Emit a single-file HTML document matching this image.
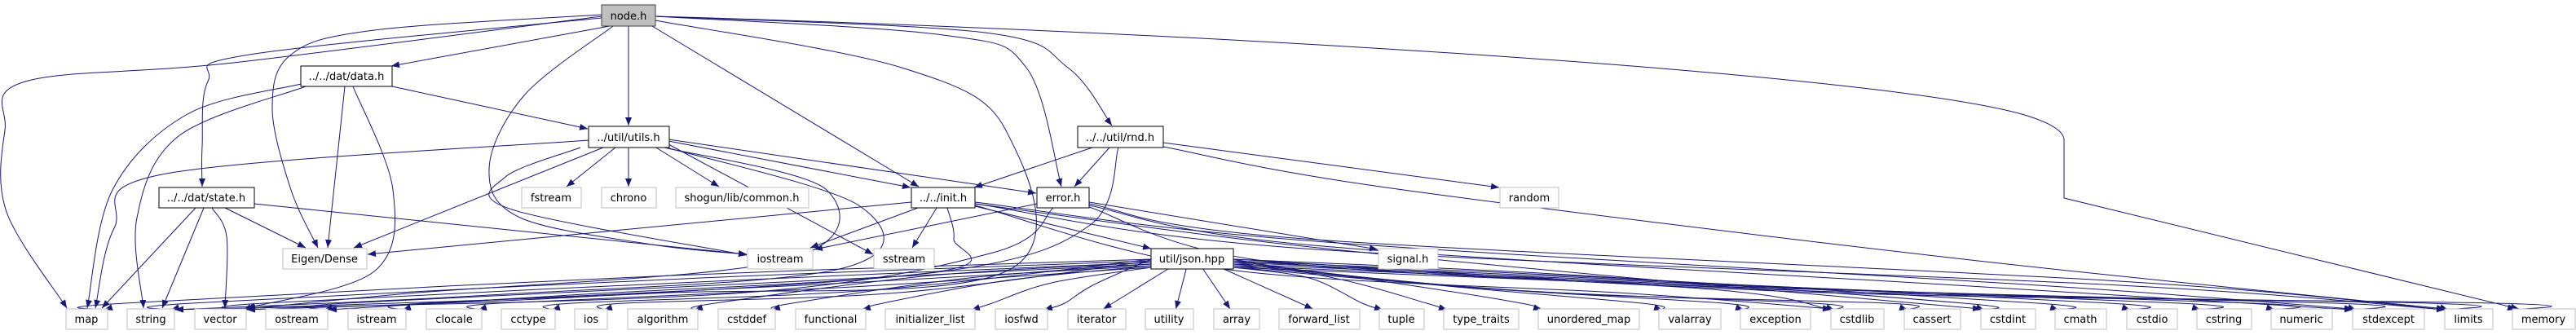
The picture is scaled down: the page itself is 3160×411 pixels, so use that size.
<!DOCTYPE html>
<html><head><meta charset="utf-8"><style>
html,body{margin:0;padding:0;background:#fff;}
svg{display:block;}
text{font-family:"DejaVu Sans","Liberation Sans",sans-serif;font-size:13px;fill:#000;}
</style></head><body>
<svg id="g" width="3160" height="411" viewBox="0 0 3160 411" xmlns="http://www.w3.org/2000/svg">
<defs><marker id="a" markerUnits="userSpaceOnUse" markerWidth="11" markerHeight="8" refX="10" refY="4" orient="auto"><path d="M0,0 L10,4 L0,8 z" fill="#191970"/></marker></defs>
<g id="edges" fill="none" stroke="#191970" stroke-width="1">
<path d="M804,20 C1500,40 2300,90 2480,140 Q2532,155 2532,172 L2532,243 L3090,379" marker-end="url(#a)"/>
</g>
<g id="nodes">
<rect x="738" y="6" width="66" height="26" fill="#bfbfbf" stroke="#404040"/><text x="771" y="24" text-anchor="middle">node.h</text>
<rect x="369" y="81" width="112" height="25" fill="#fff" stroke="#000"/><text x="425" y="98" text-anchor="middle">../../dat/data.h</text>
<rect x="722" y="155" width="99" height="26" fill="#fff" stroke="#000"/><text x="771" y="173" text-anchor="middle">../util/utils.h</text>
<rect x="1322" y="155" width="105" height="26" fill="#fff" stroke="#000"/><text x="1374" y="173" text-anchor="middle">../../util/rnd.h</text>
<rect x="195" y="230" width="117" height="25" fill="#fff" stroke="#000"/><text x="253" y="247" text-anchor="middle">../../dat/state.h</text>
<rect x="1118" y="230" width="78" height="25" fill="#fff" stroke="#000"/><text x="1157" y="247" text-anchor="middle">../../init.h</text>
<rect x="1272" y="230" width="64" height="25" fill="#fff" stroke="#000"/><text x="1304" y="247" text-anchor="middle">error.h</text>
<rect x="1412" y="305" width="101" height="25" fill="#fff" stroke="#000"/><text x="1462" y="322" text-anchor="middle">util/json.hpp</text>
</g>
<g id="leaves" fill="#fff" stroke="#bfbfbf"></g>
<g id="ltext">
<text x="676" y="247" text-anchor="middle">fstream</text>
<text x="771" y="247" text-anchor="middle">chrono</text>
<text x="910" y="247" text-anchor="middle">shogun/lib/common.h</text>
<text x="1876" y="247" text-anchor="middle">random</text>
<text x="398" y="322" text-anchor="middle">Eigen/Dense</text>
<text x="957" y="322" text-anchor="middle">iostream</text>
<text x="1109" y="322" text-anchor="middle">sstream</text>
<text x="1727" y="322" text-anchor="middle">signal.h</text>
<text x="106" y="396" text-anchor="middle">map</text>
<text x="185" y="396" text-anchor="middle">string</text>
<text x="270" y="396" text-anchor="middle">vector</text>
<text x="364" y="396" text-anchor="middle">ostream</text>
<text x="462" y="396" text-anchor="middle">istream</text>
<text x="557" y="396" text-anchor="middle">clocale</text>
<text x="648" y="396" text-anchor="middle">cctype</text>
<text x="725" y="396" text-anchor="middle">ios</text>
<text x="813" y="396" text-anchor="middle">algorithm</text>
<text x="916" y="396" text-anchor="middle">cstddef</text>
<text x="1019" y="396" text-anchor="middle">functional</text>
<text x="1141" y="396" text-anchor="middle">initializer_list</text>
<text x="1253" y="396" text-anchor="middle">iosfwd</text>
<text x="1345" y="396" text-anchor="middle">iterator</text>
<text x="1434" y="396" text-anchor="middle">utility</text>
<text x="1517" y="396" text-anchor="middle">array</text>
<text x="1618" y="396" text-anchor="middle">forward_list</text>
<text x="1719" y="396" text-anchor="middle">tuple</text>
<text x="1817" y="396" text-anchor="middle">type_traits</text>
<text x="1949" y="396" text-anchor="middle">unordered_map</text>
<text x="2073" y="396" text-anchor="middle">valarray</text>
<text x="2178" y="396" text-anchor="middle">exception</text>
<text x="2278" y="396" text-anchor="middle">cstdlib</text>
<text x="2370" y="396" text-anchor="middle">cassert</text>
<text x="2463" y="396" text-anchor="middle">cstdint</text>
<text x="2552" y="396" text-anchor="middle">cmath</text>
<text x="2640" y="396" text-anchor="middle">cstdio</text>
<text x="2728" y="396" text-anchor="middle">cstring</text>
<text x="2823" y="396" text-anchor="middle">numeric</text>
<text x="2930" y="396" text-anchor="middle">stdexcept</text>
<text x="3028" y="396" text-anchor="middle">limits</text>
<text x="3120" y="396" text-anchor="middle">memory</text>
</g>
</svg>
<script>
var N={
fstream:[640,230,713,255],chrono:[738,230,805,255],shogun:[829,230,992,255],random:[1840,230,1912,255],
eigen:[347,305,450,330],iostream:[917,305,997,330],sstream:[1072,305,1146,330],signal:[1691,305,1764,330],
map:[81,379,132,404],string:[156,379,214,404],vector:[239,379,302,404],ostream:[326,379,402,404],
istream:[427,379,498,404],clocale:[523,379,591,404],cctype:[615,379,681,404],ios:[705,379,745,404],
algorithm:[770,379,856,404],cstddef:[881,379,951,404],functional:[976,379,1062,404],initlist:[1086,379,1196,404],
iosfwd:[1221,379,1285,404],iterator:[1310,379,1381,404],utility:[1405,379,1464,404],array:[1489,379,1545,404],
fwdlist:[1569,379,1668,404],tuple:[1692,379,1747,404],typetraits:[1771,379,1863,404],umap:[1887,379,2011,404],
valarray:[2035,379,2111,404],exception:[2135,379,2221,404],cstdlib:[2246,379,2311,404],cassert:[2336,379,2405,404],
cstdint:[2430,379,2497,404],cmath:[2521,379,2584,404],cstdio:[2609,379,2671,404],cstring:[2695,379,2762,404],
numeric:[2786,379,2861,404],stdexcept:[2886,379,2974,404],limits:[2999,379,3058,404],memory:[3082,379,3159,404]};
var ns="http://www.w3.org/2000/svg",L=document.getElementById('leaves'),E=document.getElementById('edges');
for(var k in N){var b=N[k],r=document.createElementNS(ns,'rect');
r.setAttribute('x',b[0]);r.setAttribute('y',b[1]);r.setAttribute('width',b[2]-b[0]);r.setAttribute('height',b[3]-b[1]);L.appendChild(r);}
function P(pts){
 var d='M'+pts[0][0]+','+pts[0][1];
 if(pts.length==2){return d+' L'+pts[1][0]+','+pts[1][1];}
 for(var i=0;i<pts.length-1;i++){
  var p0=pts[i-1]||pts[i],p1=pts[i],p2=pts[i+1],p3=pts[i+2]||pts[i+1];
  var c1=[p1[0]+(p2[0]-p0[0])/6,p1[1]+(p2[1]-p0[1])/6],c2=[p2[0]-(p3[0]-p1[0])/6,p2[1]-(p3[1]-p1[1])/6];
  d+=' C'+c1[0].toFixed(1)+','+c1[1].toFixed(1)+' '+c2[0].toFixed(1)+','+c2[1].toFixed(1)+' '+p2[0]+','+p2[1];
 }return d;}
function e(){var pts=Array.prototype.slice.call(arguments);var p=document.createElementNS(ns,'path');p.setAttribute('d',P(pts));p.setAttribute('marker-end','url(#a)');E.appendChild(p);}
// node.h
e([738,20],[286,77],[31,100],[6,160],[8,260],[82,378]);
e([738,22],[306,67],[255,100],[248,180],[248,229]);
e([738,18],[459,37],[357,67],[334,133],[357,233],[390,304]);
e([748,32],[480,81]);
e([771,32],[771,154]);
e([800,32],[1127,229]);
e([752,32],[643,117],[600,207],[638,267],[800,300],[916,312]);
e([804,25],[1106,83],[1234,160],[1234,333],[800,360],[303,378]);
e([804,20],[1157,43],[1259,83],[1302,229]);
e([804,20],[1208,40],[1310,83],[1364,154]);
// data.h
e([369,103],[230,140],[138,233],[107,378]);
e([375,106],[219,167],[168,267],[176,378]);
e([423,106],[402,304]);
e([433,106],[482,233],[459,333],[303,378]);
e([481,106],[721,158]);
// utils.h
e([722,172],[204,213],[140,280],[117,378]);
e([740,181],[434,304]);
e([755,181],[695,229]);
e([771,181],[771,229]);
e([800,178],[882,229]);
e([820,173],[1117,230]);
e([820,171],[1271,237]);
e([712,181],[620,217],[628,257],[916,313]);
e([820,177],[1071,312]);
e([815,181],[1014,233],[960,320],[500,360],[303,379]);
e([818,181],[1055,253],[1030,330],[600,362],[215,380]);
// state.h
e([240,255],[125,378]);
e([250,255],[199,378]);
e([260,255],[278,290],[276,378]);
e([276,255],[375,304]);
e([312,250],[916,312]);
// rnd.h
e([1340,181],[1195,230]);
e([1361,181],[1318,229]);
e([1427,175],[1839,230]);
e([1427,180],[1700,230],[2400,317],[2999,379]);
e([1372,181],[1336,277],[1157,333],[700,362],[403,380]);
// init.h
e([1118,248],[451,312]);
e([1126,255],[994,304]);
e([1149,255],[1119,304]);
e([1196,253],[1412,305]);
e([1162,255],[1170,293],[1152,333],[700,365],[303,380]);
e([1196,250],[1580,300],[2100,350],[2430,379]);
e([1196,250],[1600,305],[2600,350],[2999,380]);
e([1196,248],[1600,295],[2500,350],[2886,379]);
e([1196,252],[1500,330],[2000,360],[2246,379]);
// error.h
e([1272,250],[999,306]);
e([1336,248],[1690,306]);
e([1292,255],[1218,310],[900,360],[215,380]);
e([1336,252],[1600,300],[2400,350],[2886,380]);
e([1336,250],[1600,293],[2600,345],[2999,380]);
e([1336,254],[1550,320],[2100,355],[2246,380]);
// json.hpp
['map','string','vector','ostream','istream','clocale','cctype','ios','algorithm','cstddef','functional','initlist','iosfwd','iterator','utility','array','fwdlist','tuple','typetraits','umap','valarray','exception','cstdlib','cassert','cstdint','cmath','cstdio','cstring','numeric','stdexcept','limits','memory'].forEach(function(t,i){
var T=N[t],tcx=(T[0]+T[2])/2;
if(T[2]<1300){var sx=1412,sy=318+ (i%6)*2;var tx=T[2]-4;
 e([sx,sy],[tcx+(1412-tcx)*0.55,338+(i%8)*3],[tx+25,372],[tx,380]);}
else if(T[0]>1620){var sx=1513,sy=318+(i%6)*2;var tx=T[0]+4;
 e([sx,sy],[tcx-(tcx-1513)*0.55,338+(i%8)*3],[tx-25,372],[tx,380]);}
else e([1462+(tcx-1462)*0.25,330],[tcx+(tcx<1462?8:-8),379]);
});
</script>
</body></html>
